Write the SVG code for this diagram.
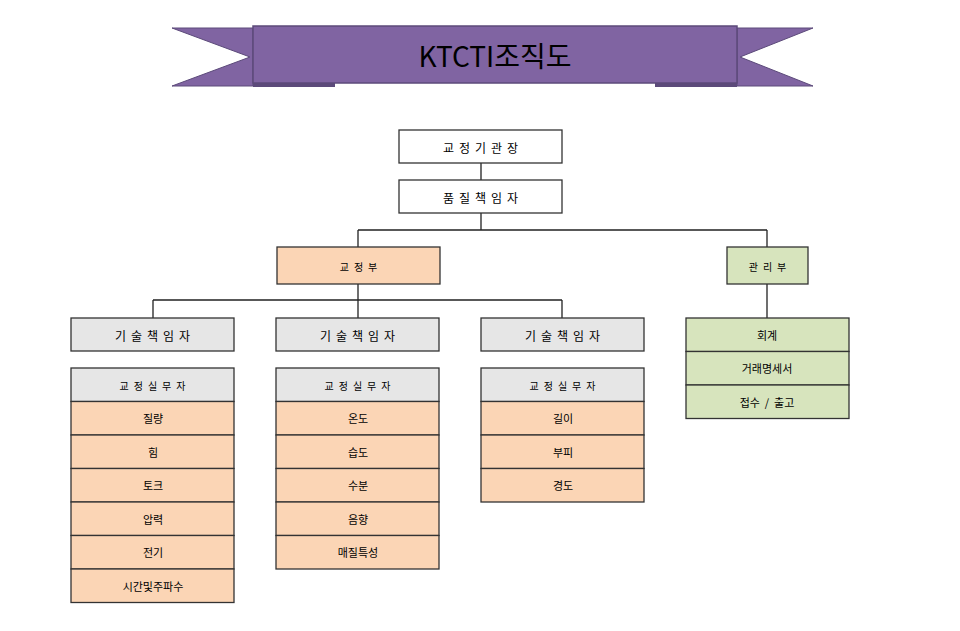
<svg xmlns="http://www.w3.org/2000/svg" width="960" height="631" viewBox="0 0 960 631">
<style>
text{font-family:"Noto Sans CJK KR",sans-serif;fill:#000;text-anchor:middle;dominant-baseline:central}
.b{stroke:#333;stroke-width:1.3}
.w{fill:#fff}.g{fill:#e6e6e6}.o{fill:#fbd5b5}.gr{fill:#d7e4bd}
.s{font-size:12px;letter-spacing:5px}.m{font-size:11px}.t{font-size:10px;letter-spacing:5px}
.c{stroke:#222;stroke-width:1.3;fill:none}
</style>
<rect width="960" height="631" fill="#fff"/>
<g id="title">
<polygon points="172,28 253,28 253,86 172,86 250,57" fill="#8064a2" stroke="#5c4a7a"/>
<polygon points="813,28 737,28 737,86 813,86 740,57" fill="#8064a2" stroke="#5c4a7a"/>
<rect x="253" y="83" width="82" height="4" fill="#5c4a7a"/>
<rect x="655" y="83" width="82" height="4" fill="#5c4a7a"/>
<rect x="253" y="26" width="484" height="57" fill="#8064a2" stroke="#5c4a7a" stroke-width="1.5"/>
<text x="495" y="55" style="font-size:28px;font-weight:400">KTCTI조직도</text>
</g>
<g id="connectors" class="c">
<path d="M481 163V180M481 213V230M358 230H767M358 230V247M767 230V247M358 284V300M153 300H562M153 300V318M358 300V318M562 300V318M767 284V318"/>
</g>
<g id="n1"><rect class="b w" x="399" y="130" width="163" height="33"/><text class="s" x="483" y="147">교정기관장</text></g>
<g id="n2"><rect class="b w" x="399" y="180" width="163" height="33"/><text class="s" x="483" y="197">품질책임자</text></g>
<g id="n3"><rect class="b o" x="277" y="247" width="163" height="37"/><text class="t" x="361" y="266">교정부</text></g>
<g id="n4"><rect class="b gr" x="727" y="247" width="81" height="37"/><text class="t" x="770" y="266">관리부</text></g>
<g id="t1"><rect class="b g" x="71" y="318" width="163" height="33"/><text class="s" x="155" y="335">기술책임자</text></g>
<g id="t2"><rect class="b g" x="276" y="318" width="163" height="33"/><text class="s" x="360" y="335">기술책임자</text></g>
<g id="t3"><rect class="b g" x="481" y="318" width="163" height="33"/><text class="s" x="565" y="335">기술책임자</text></g>
<g id="l1">
<rect class="b g" x="71" y="368" width="163" height="33.5"/><text class="t" x="155" y="385">교정실무자</text>
<rect class="b o" x="71" y="401.5" width="163" height="33.5"/><text class="m" x="153" y="418">질량</text>
<rect class="b o" x="71" y="435" width="163" height="33.5"/><text class="m" x="153" y="452">힘</text>
<rect class="b o" x="71" y="468.5" width="163" height="33.5"/><text class="m" x="153" y="485">토크</text>
<rect class="b o" x="71" y="502" width="163" height="33.5"/><text class="m" x="153" y="519">압력</text>
<rect class="b o" x="71" y="535.5" width="163" height="33.5"/><text class="m" x="153" y="552">전기</text>
<rect class="b o" x="71" y="569" width="163" height="33.5"/><text class="m" x="153" y="586">시간및주파수</text>
</g>
<g id="l2">
<rect class="b g" x="276" y="368" width="163" height="33.5"/><text class="t" x="360" y="385">교정실무자</text>
<rect class="b o" x="276" y="401.5" width="163" height="33.5"/><text class="m" x="358" y="418">온도</text>
<rect class="b o" x="276" y="435" width="163" height="33.5"/><text class="m" x="358" y="452">습도</text>
<rect class="b o" x="276" y="468.5" width="163" height="33.5"/><text class="m" x="358" y="485">수분</text>
<rect class="b o" x="276" y="502" width="163" height="33.5"/><text class="m" x="358" y="519">음향</text>
<rect class="b o" x="276" y="535.5" width="163" height="33.5"/><text class="m" x="358" y="552">매질특성</text>
</g>
<g id="l3">
<rect class="b g" x="481" y="368" width="163" height="33.5"/><text class="t" x="565" y="385">교정실무자</text>
<rect class="b o" x="481" y="401.5" width="163" height="33.5"/><text class="m" x="563" y="418">길이</text>
<rect class="b o" x="481" y="435" width="163" height="33.5"/><text class="m" x="563" y="452">부피</text>
<rect class="b o" x="481" y="468.5" width="163" height="33.5"/><text class="m" x="563" y="485">경도</text>
</g>
<g id="l4">
<rect class="b gr" x="686" y="318" width="163" height="33.5"/><text class="m" x="767" y="335">회계</text>
<rect class="b gr" x="686" y="351.5" width="163" height="33.5"/><text class="m" x="767" y="368">거래명세서</text>
<rect class="b gr" x="686" y="385" width="163" height="33.5"/><text class="m" x="767" y="402" xml:space="preserve">접수  /  출고</text>
</g>
</svg>
